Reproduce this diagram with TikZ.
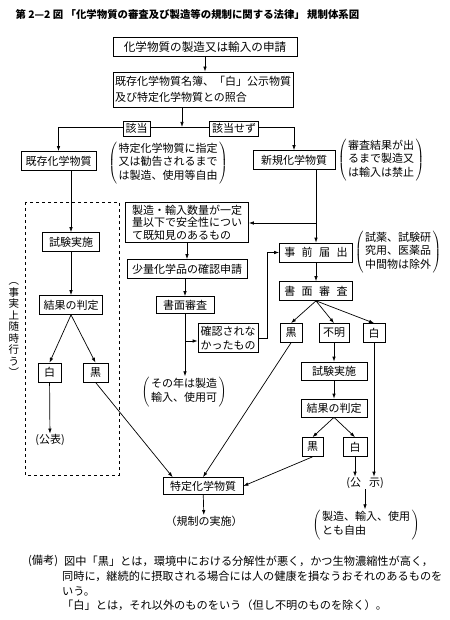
\documentclass[tikz,border=0pt]{standalone}
\usepackage{fontspec}
\setmainfont{Noto Sans CJK JP}
\usetikzlibrary{arrows.meta,calc}
\newcommand{\kgap}{\hspace{6.5pt}}
\newcommand{\paren}[1]{$\left(\kern1.5pt\begin{tabular}{@{}l@{}}#1\end{tabular}\kern1.5pt\right)$}

\begin{document}
\begin{tikzpicture}[x=1pt,y=-1pt,font=\fontsize{11}{13.5}\selectfont,
    box/.style={draw,line width=0.7pt,inner sep=2.5pt,minimum height=19pt},
    tag/.style={draw,fill=white,line width=0.7pt,inner sep=2.5pt,minimum height=15pt},
    note/.style={inner sep=0.5pt},
    remark/.style={anchor=west,inner sep=0pt,font=\fontsize{11.2}{15}\selectfont},
    arr/.style={line width=0.7pt,-{Latex[length=5pt,width=3.5pt]}}]
  \useasboundingbox (0,0) rectangle (449,620);

  \node[anchor=west,font=\bfseries\fontsize{10.4}{12}\selectfont] (title) at (12,15)
    {第 2—2 図 「化学物質の審査及び製造等の規制に関する法律」 規制体系図};

  % top of the chart
  \node[box,minimum width=184pt,font=\fontsize{11.6}{14}\selectfont] (apply) at (205,47) {化学物質の製造又は輸入の申請};
  \node[box,align=left,inner sep=2pt,minimum width=180pt,minimum height=35pt,
        font=\fontsize{11}{16}\selectfont] (check) at (203,89.5)
    {既存化学物質名簿、「白」公示物質\\及び特定化学物質との照合};
  \coordinate (jn) at (182,127);

  \node[box,minimum width=75pt] (exist) at (58.5,161) {既存化学物質};
  \node[note] (existnote) at (168,163) {\paren{特定化学物質に指定\\又は勧告されるまで\\は製造、使用等自由}};
  \node[box,minimum width=82pt] (new) at (294,160) {新規化学物質};
  \node[note] (newnote) at (381,160) {\paren{審査結果が出\\るまで製造又\\は輸入は禁止}};

  % existing substances
  \draw[dashed,line width=0.6pt] (25,202) rectangle (119,475);
  \node[align=center,inner sep=0pt,font=\fontsize{10.5}{11.5}\selectfont] (defacto) at (14,330)
    {︵\\事\\実\\上\\随\\時\\行\\う\\︶};
  \node[box,minimum width=57pt] (test1) at (71,242) {試験実施};
  \node[box,minimum width=63pt] (judge1) at (71,305) {結果の判定};
  \node[box,minimum width=23pt] (whiteL) at (49.5,372.5) {白};
  \node[box,minimum width=25pt] (blackL) at (95.5,372.5) {黒};
  \node[note] (pub) at (50,440) {(公表)};

  % small quantity route
  \node[box,align=left,minimum width=123pt,font=\fontsize{11}{12.5}\selectfont] (known) at (187,222.5)
    {製造・輸入数量が一定\\量以下で安全性につい\\て既知見のあるもの};
  \node[box,minimum width=120pt] (small) at (187,269) {少量化学品の確認申請};
  \node[box,minimum width=58pt,minimum height=17pt] (paper1) at (185,305) {書面審査};
  \node[box,align=left,font=\fontsize{11}{14}\selectfont] (unconf) at (228,338) {確認されな\\かったもの};
  \node[note] (permit) at (184,392) {\paren{その年は製造\\輸入、使用可}};

  % new substances
  \node[box,minimum width=73pt] (prior) at (316,252.5) {事\kgap 前\kgap 届\kgap 出};
  \node[note] (priornote) at (398,252) {\paren{試薬、試験研\\究用、医薬品\\中間物は除外}};
  \node[box,minimum width=73pt] (paper2) at (316,291) {書\kgap 面\kgap 審\kgap 査};
  \node[box,minimum width=22pt] (black1) at (291,333) {黒};
  \node[box,minimum width=30pt] (unknown) at (334,333) {不明};
  \node[box,minimum width=22pt] (white1) at (374,333) {白};
  \node[box,minimum width=66pt,minimum height=18pt] (test2) at (334,371) {試験実施};
  \node[box,minimum width=66pt,minimum height=18pt] (judge2) at (334,408) {結果の判定};
  \node[box,minimum width=21pt] (black2) at (312.5,447) {黒};
  \node[box,minimum width=24pt] (white2) at (355,447) {白};
  \node[note] (announce) at (365,483) {(公\hspace{8pt}示)};
  \node[note] (free) at (366,525) {\paren{製造、輸入、使用\\とも自由}};

  \node[box,minimum width=80pt,minimum height=17pt] (specific) at (203,486) {特定化学物質};
  \node[note] (enforce) at (204,521) {（規制の実施）};

  % connectors
  \draw[arr] (apply.south) -- (apply.south |- check.north);
  \draw[arr] (check.south -| jn) -- (jn);
  \draw[arr] (jn) -| (exist);
  \draw[arr] (jn) -| (new);
  \node[tag] (hit) at (136.5,128.5) {該当};
  \node[tag] (nohit) at (234,128.5) {該当せず};

  \draw[arr] (exist.south -| test1) -- (test1);
  \draw[arr] (test1) -- (judge1);
  \draw[arr] (judge1.south) -- (whiteL.north);
  \draw[arr] (judge1.south) -- (blackL.north);
  \draw[arr] (whiteL) -- (pub);
  \draw[arr] (blackL.south) -- ([xshift=10pt]specific.north west);

  \coordinate (br1) at (316,223);
  \draw[arr] (new.south -| prior) -- (prior);
  \draw[arr] (br1) -- (br1 -| known.east);
  \draw[arr] (known) -- (small);
  \draw[arr] (small.south -| paper1) -- (paper1);
  \draw[arr] (paper1) -- (paper1 |- permit.north);
  \coordinate (br2) at (185,341);
  \draw[arr] (br2) -- (br2 -| unconf.west);
  \draw[arr] (unconf.east) -- ++(9,0) |- (prior.west);

  \draw[arr] (prior) -- (paper2);
  \draw[arr] (paper2.south) -- (black1.north);
  \draw[arr] (paper2.south) -- (unknown.north);
  \draw[arr] (paper2.south) -- (white1.north);
  \draw[arr] (unknown) -- (test2);
  \draw[arr] (test2) -- (judge2);
  \draw[arr] (judge2.south) -- (black2.north);
  \draw[arr] (judge2.south) -- (white2.north);
  \draw[arr] (white2) -- (white2 |- announce.north);
  \draw[arr] (white1) -- (white1 |- announce.north);
  \draw[arr] (announce) -- (announce |- free.north);
  \draw[arr] (black1.south) -- (specific.north);
  \draw[arr] (black2.south) -- (specific.east);
  \draw[arr] (specific) -- (enforce);

  % remarks
  \node[remark] (remarkhead) at (28,561) {(備考)};
  \node[remark] (def1) at (64,561) {図中「黒」とは，環境中における分解性が悪く，かつ生物濃縮性が高く，};
  \node[remark] (def2) at (62,576) {同時に，継続的に摂取される場合には人の健康を損なうおそれのあるものを};
  \node[remark] (def3) at (62,591) {いう。};
  \node[remark] (def4) at (62,605) {「白」とは，それ以外のものをいう（但し不明のものを除く）。};
\end{tikzpicture}
\end{document}
